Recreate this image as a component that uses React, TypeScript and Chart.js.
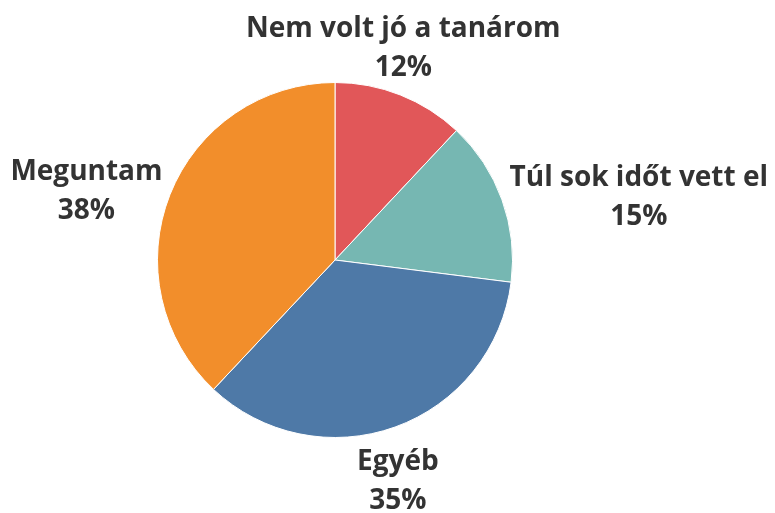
import React, { useEffect, useRef } from "react";
import { Chart, registerables } from "chart.js";

Chart.register(...registerables);

const categories = ["Nem volt jó a tanárom", "Túl sok időt vett el", "Egyéb", "Meguntam"];
const values = [12, 15, 35, 38];
const colors = ["#E15759", "#76B7B2", "#4E79A7", "#F28E2B"];

const FONT = "bold 28px 'Open Sans', sans-serif";
const LINE_H = 39;
const PAD = 8;
const BELOW_GAP = 8;

const labelPlugin = {
  id: "outsideLabels",
  afterDraw(chart: any) {
    const ctx = chart.ctx;
    const meta = chart.getDatasetMeta(0);
    ctx.save();
    ctx.font = FONT;
    ctx.fillStyle = "#333333";
    ctx.textBaseline = "middle";
    meta.data.forEach((el: any, i: number) => {
      const p = el.getProps(["x", "y", "startAngle", "endAngle", "outerRadius"], true);
      const mid = (p.startAngle + p.endAngle) / 2;
      const c = Math.cos(mid);
      const s = Math.sin(mid);
      const d = p.outerRadius + PAD;
      const ax = p.x + c * d;
      const ay = p.y + s * d;
      const lines = [categories[i], values[i] + "%"];
      const blockH = LINE_H * lines.length;
      const w = Math.max(...lines.map((l) => ctx.measureText(l).width));
      let top: number;
      let tx: number;
      if (Math.abs(c) >= Math.abs(s)) {
        top = ay - blockH / 2;
        tx = c > 0 ? Math.min(ax + w / 2, chart.width - 2 - w / 2) : Math.max(ax - w / 2, 2 + w / 2);
      } else {
        top = s < 0 ? ay - blockH : ay + BELOW_GAP;
        tx = Math.min(Math.max(ax, 2 + w / 2), chart.width - 2 - w / 2);
      }
      ctx.textAlign = "center";
      lines.forEach((l, j) => {
        ctx.fillText(l, tx, top + LINE_H * j + LINE_H / 2);
      });
    });
    ctx.restore();
  },
};

export default function App() {
  const ref = useRef<HTMLCanvasElement>(null);
  useEffect(() => {
    const chart = new Chart(ref.current!, {
      type: "pie",
      data: {
        labels: categories,
        datasets: [
          {
            data: values,
            backgroundColor: colors,
            borderColor: "#ffffff",
            borderWidth: 1,
          },
        ],
      },
      options: {
        animation: false,
        responsive: false,
        layout: { padding: { left: 157, right: 262, top: 82, bottom: 75 } },
        plugins: { legend: { display: false }, tooltip: { enabled: false } },
      },
      plugins: [labelPlugin],
    });
    return () => chart.destroy();
  }, []);
  return (
    <div style={{ position: "fixed", left: 0, top: 0, width: 775, height: 513, background: "#fff" }}>
      <canvas ref={ref} width={775} height={513} />
    </div>
  );
}
